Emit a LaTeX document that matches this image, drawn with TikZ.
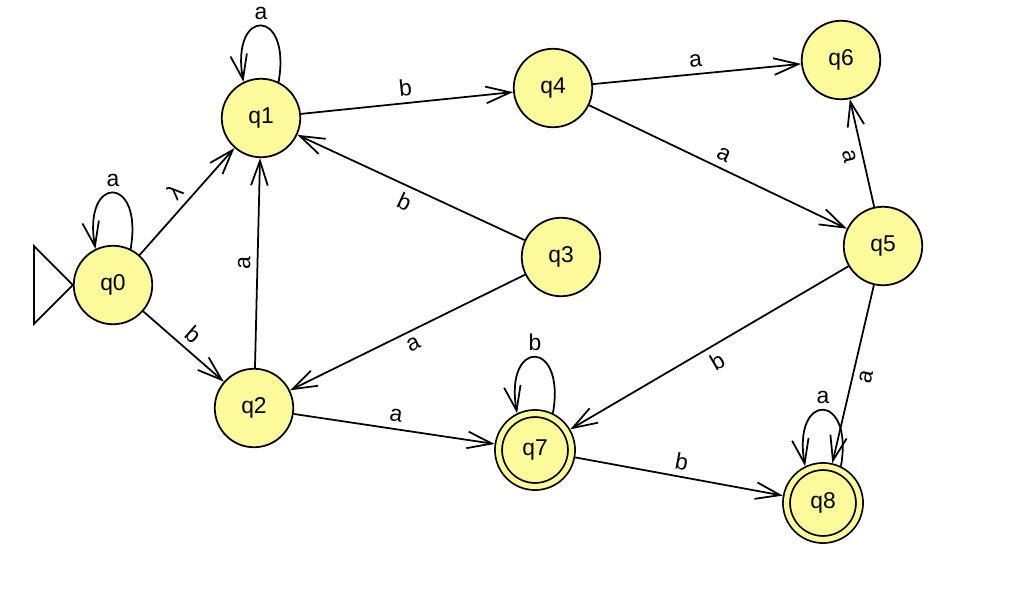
\documentclass[tikz,border=0pt]{standalone}
\usepackage{fontspec}
\setmainfont{Liberation Sans}
\usetikzlibrary{arrows.meta}
\definecolor{stfill}{RGB}{252,250,155}
\begin{document}
\begin{tikzpicture}[>={Straight Barb[length=14pt,width=9.5pt]},x=0.02cm,y=0.02cm,line width=1pt,font=\fontsize{13}{15}\selectfont,
	state/.style={circle,draw,fill=stfill,inner sep=0pt,minimum size=1.57cm},
	accept/.style={circle,draw,fill=stfill,inner sep=0pt,minimum size=1.46cm,double=stfill,double distance=3pt,outer sep=2.5pt},
	lbl/.style={auto,sloped,inner sep=3.5pt},
	loopy/.style={->}]
	\useasboundingbox (0,0) rectangle (1024,-602);
	\node[state] (q0) at (113,-285) {q0};
	\node[state] (q1) at (261,-118) {q1};
	\node[state] (q2) at (254,-408) {q2};
	\node[state] (q3) at (561,-257) {q3};
	\node[state] (q4) at (553,-88) {q4};
	\node[state] (q5) at (883,-246) {q5};
	\node[state] (q6) at (841,-60) {q6};
	\node[accept] (q7) at (535,-450) {q7};
	\node[accept] (q8) at (823,-503) {q8};
	% start arrow
	\draw (q0.west) -- ++(-39,39) -- ++(0,-78) -- cycle;
	% loops
	\draw[loopy] (q0.64) .. controls +(80:76) and +(100:76) .. node[above,inner sep=3pt] {a} (q0.116);
	\draw[loopy] (q1.64) .. controls +(80:76) and +(100:76) .. node[above,inner sep=3pt] {a} (q1.116);
	\draw[loopy] (q7.64) .. controls +(80:76) and +(100:76) .. node[above,inner sep=3pt] {b} (q7.116);
	\draw[loopy] (q8.64) .. controls +(80:76) and +(100:76) .. node[above,inner sep=3pt] {a} (q8.116);
	% transitions
	\draw[->] (q0) -- node[lbl] {λ} (q1);
	\draw[->] (q0) -- node[lbl] {b} (q2);
	\draw[->] (q1) -- node[lbl] {b} (q4);
	\draw[->] (q2) -- node[lbl] {a} (q1);
	\draw[->] (q3) -- node[lbl,swap] {b} (q1);
	\draw[->] (q3) -- node[lbl,swap] {a} (q2);
	\draw[->] (q2) -- node[lbl] {a} (q7);
	\draw[->] (q4) -- node[lbl] {a} (q6);
	\draw[->] (q4) -- node[lbl] {a} (q5);
	\draw[->] (q5) -- node[lbl,swap] {a} (q6);
	\draw[->] (q5) -- node[lbl,swap] {b} (q7);
	\draw[->] (q5) -- node[lbl,swap] {a} (q8);
	\draw[->] (q7) -- node[lbl] {b} (q8);
\end{tikzpicture}
\end{document}
